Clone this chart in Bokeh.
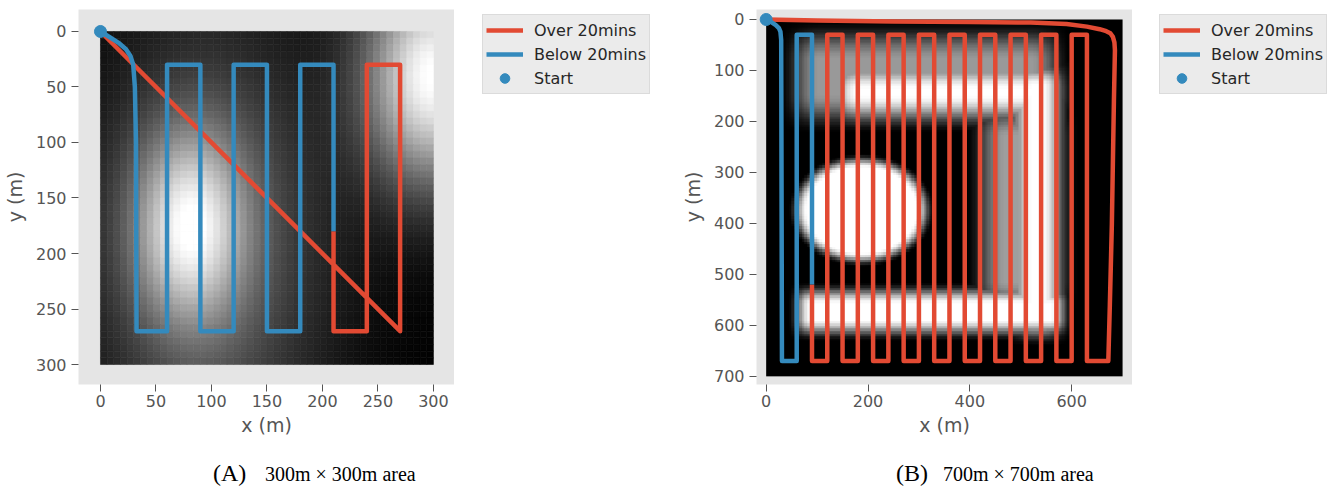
import numpy as np
from bokeh.plotting import figure
from bokeh.models import (Range1d, Legend, LegendItem, LinearColorMapper,
                          ColumnDataSource, FixedTicker, Div)
from bokeh.layouts import row, column
from bokeh.palettes import gray
from bokeh.transform import linear_cmap
from bokeh.embed import file_html
from bokeh.resources import INLINE

RED = "#E24A33"
BLUE = "#348ABD"

# ---------------- Panel A data (300m x 300m) ----------------
a_x_ticks = [0, 50, 100, 150, 200, 250, 300]
a_y_ticks = [0, 50, 100, 150, 200, 250, 300]
a_over_x = [210, 210, 240, 240, 270, 270, 0]
a_over_y = [180, 270, 270, 30, 30, 270, 0]
a_below_x = [0, 8, 16, 23, 27, 29.5, 31, 32, 32.5, 60, 60, 90, 90, 120, 120,
             150, 150, 180, 180, 210, 210]
a_below_y = [0, 5, 10, 16, 22, 30, 50, 100, 270, 270, 30, 30, 270, 270, 30,
             30, 270, 270, 30, 30, 180]
a_start_x = [0]
a_start_y = [0]
# intensity field: bright blobs
a_blob_x = [80, 100, 300]
a_blob_y = [175, 200, 40]
a_blob_sx = [35, 75, 43]
a_blob_sy = [60, 150, 70]
a_blob_amp = [0.7, 0.35, 1.0]
a_size = 300
a_cells = 50

# ---------------- Panel B data (700m x 700m) ----------------
b_x_ticks = [0, 200, 400, 600]
b_y_ticks = [0, 100, 200, 300, 400, 500, 600, 700]
b_below_x = [0, 10, 19, 25, 28, 29.5, 31, 60, 60, 90, 90]
b_below_y = [0, 5, 11, 17, 24, 40, 670, 670, 30, 30, 520]
b_over_x = [90, 90, 120, 120, 150, 150, 180, 180, 210, 210, 240, 240, 270, 270,
            300, 300, 330, 330, 360, 360, 390, 390, 420, 420, 450, 450, 480, 480,
            510, 510, 540, 540, 570, 570, 600, 600, 630, 630,
            672, 675, 679, 683, 685, 684, 681, 676, 668, 655, 630, 590, 520, 400,
            250, 100, 0]
b_over_y = [520, 670, 670, 30, 30, 670, 670, 30, 30, 670, 670, 30, 30, 670,
            670, 30, 30, 670, 670, 30, 30, 670, 670, 30, 30, 670, 670, 30,
            30, 670, 670, 30, 30, 670, 670, 30, 30, 670,
            670, 560, 400, 160, 60, 45, 34, 27, 23, 19, 14, 9, 6, 5,
            4, 2, 0]
b_start_x = [0]
b_start_y = [0]
# intensity field: soft-edged shapes
b_rect_x0 = [65, 140, 430, 492, 65]
b_rect_x1 = [560, 570, 575, 572, 580]
b_rect_y0 = [40, 100, 190, 100, 535]
b_rect_y1 = [185, 185, 550, 610, 608]
b_rect_level = [0.6, 1.0, 0.62, 1.0, 1.0]
b_rect_soft = [40, 38, 40, 30, 22]
b_ell_cx = [187]
b_ell_cy = [373]
b_ell_rx = [125]
b_ell_ry = [97]
b_ell_soft = [16]
b_size = 700
b_cells = 140

cap_letters = ["(A)", "(B)"]
cap_texts = ["300m \u00d7 300m area", "700m \u00d7 700m area"]
legend_labels = ["Over 20mins", "Below 20mins", "Start"]


def ramp(d, w):
    t = np.clip((d + w) / (2.0 * w), 0, 1)
    return t * t * (3 - 2 * t)


def field_a():
    c = (np.arange(a_cells) + 0.5) * a_size / a_cells
    X, Y = np.meshgrid(c, c)
    F = np.zeros_like(X)
    for bx, by, sx, sy, am in zip(a_blob_x, a_blob_y, a_blob_sx, a_blob_sy, a_blob_amp):
        F += am * np.exp(-((X - bx) ** 2) / (2 * sx ** 2) - ((Y - by) ** 2) / (2 * sy ** 2))
    return X, Y, np.clip(F, 0, 1)


def field_b():
    c = (np.arange(b_cells) + 0.5) * b_size / b_cells
    X, Y = np.meshgrid(c, c)
    F = np.zeros_like(X)
    for x0, x1, y0, y1, lv, w in zip(b_rect_x0, b_rect_x1, b_rect_y0, b_rect_y1,
                                      b_rect_level, b_rect_soft):
        v = lv * ramp(X - x0, w) * ramp(x1 - X, w) * ramp(Y - y0, w) * ramp(y1 - Y, w)
        F = np.maximum(F, v)
    for cx, cy, rx, ry, w in zip(b_ell_cx, b_ell_cy, b_ell_rx, b_ell_ry, b_ell_soft):
        r = np.sqrt(((X - cx) / rx) ** 2 + ((Y - cy) / ry) ** 2)
        v = ramp((1 - r) * np.sqrt(rx * ry), w)
        F = np.maximum(F, v)
    return np.clip(F, 0, 1)


def style(p, xt, yt, ylab_standoff):
    p.background_fill_color = "#E5E5E5"
    p.border_fill_color = "white"
    p.outline_line_color = None
    p.grid.visible = False
    p.xaxis.ticker = FixedTicker(ticks=xt)
    p.yaxis.ticker = FixedTicker(ticks=yt)
    p.xaxis.axis_label = "x (m)"
    p.yaxis.axis_label = "y (m)"
    for ax in (p.xaxis[0], p.yaxis[0]):
        ax.axis_line_color = None
        ax.major_tick_line_color = "#555555"
        ax.major_tick_out = 7
        ax.major_tick_in = 0
        ax.minor_tick_line_color = None
        ax.major_label_text_font = "DejaVu Sans"
        ax.major_label_text_font_size = "16px"
        ax.major_label_text_color = "#555555"
        ax.axis_label_text_font = "DejaVu Sans"
        ax.axis_label_text_font_size = "19px"
        ax.axis_label_text_color = "#555555"
        ax.axis_label_text_font_style = "normal"
    p.xaxis[0].major_label_standoff = 3
    p.xaxis[0].axis_label_standoff = 4
    p.yaxis[0].major_label_standoff = 5
    p.yaxis[0].axis_label_standoff = ylab_standoff


def draw_paths(p, ox, oy, bx, by, sx, sy):
    p.line(ox, oy, line_color=RED, line_width=4.5, line_join="round")
    p.line(bx, by, line_color=BLUE, line_width=4.5, line_join="round")
    p.scatter(sx, sy, size=12, fill_color=BLUE, line_color=BLUE)


def legend_fig(width, left_gap):
    q = figure(width=width, height=445, output_backend="svg", toolbar_location=None,
               x_range=Range1d(0, 1), y_range=Range1d(0, 1),
               x_axis_type=None, y_axis_type=None, min_border=0)
    q.outline_line_color = None
    q.grid.visible = False
    q.background_fill_color = "white"
    q.border_fill_color = "white"
    # key samples kept outside this frame's visible range; only the legend shows
    r_over = q.line(x=[5, 6], y=[5, 6], line_color=RED, line_width=4.5)
    r_below = q.line(x=[5, 6], y=[5, 6], line_color=BLUE, line_width=4.5)
    r_start = q.scatter(x=[5], y=[5], size=12, fill_color=BLUE, line_color=BLUE)
    items = [LegendItem(label=legend_labels[0], renderers=[r_over]),
             LegendItem(label=legend_labels[1], renderers=[r_below]),
             LegendItem(label=legend_labels[2], renderers=[r_start])]
    # the row aligns this frame with the panel frames (375 px tall)
    lg = Legend(items=items, location=(left_gap, 375 - 7 - 78), margin=0, padding=3,
                spacing=0, glyph_width=37, glyph_height=24, label_height=24,
                label_standoff=11, label_text_font="DejaVu Sans",
                label_text_font_size="16px", label_text_color="#262626",
                background_fill_color="#EBEBEB", background_fill_alpha=1.0,
                border_line_color="#CCCCCC", border_line_width=1)
    q.add_layout(lg)
    return q


# ---------------- Panel A ----------------
pa = figure(width=454, height=445, output_backend="svg", toolbar_location=None,
            x_range=Range1d(-19.8, 319), y_range=Range1d(318, -19.8),
            min_border_left=78, min_border_right=0, min_border_top=9,
            min_border_bottom=61)
X, Y, FA = field_a()
cell = a_size / a_cells
srcA = ColumnDataSource(dict(x=X.ravel(), y=Y.ravel(), v=FA.ravel()))
cmap = linear_cmap("v", gray(256), 0, 1)
pa.rect(x="x", y="y", width=cell, height=cell, source=srcA,
        fill_color=cmap, line_color=cmap, line_width=0.6)
style(pa, a_x_ticks, a_y_ticks, 7)
draw_paths(pa, a_over_x, a_over_y, a_below_x, a_below_y, a_start_x, a_start_y)
la = legend_fig(211, 28)

# ---------------- Panel B ----------------
pb = figure(width=467, height=445, output_backend="svg", toolbar_location=None,
            x_range=Range1d(-19, 719.5), y_range=Range1d(716, -19.6),
            min_border_left=91, min_border_right=0, min_border_top=9,
            min_border_bottom=61)
FB = field_b()
pb.image(image=[FB], x=0, y=0, dw=b_size, dh=b_size,
         color_mapper=LinearColorMapper(palette=gray(256), low=0, high=1))
style(pb, b_x_ticks, b_y_ticks, 7)
draw_paths(pb, b_over_x, b_over_y, b_below_x, b_below_y, b_start_x, b_start_y)
lb = legend_fig(199, 27)

# ---------------- Captions ----------------
letter_left = [213, 896]
text_left = [265, 943]
spans = []
for lt, lx, tt, tx in zip(cap_letters, letter_left, cap_texts, text_left):
    spans.append('<span style="position:absolute;left:%dpx;top:16px;font-size:24px;'
                 'line-height:24px;white-space:nowrap;">%s</span>' % (lx, lt))
    spans.append('<span style="position:absolute;left:%dpx;top:19px;font-size:20px;'
                 'line-height:20px;white-space:nowrap;">%s</span>' % (tx, tt))
cap_html = ('<div style="position:relative;width:1331px;height:42px;'
            'font-family:\'Liberation Serif\',serif;color:#000;">' + "".join(spans) + '</div>')
cap = Div(text=cap_html, width=1331, height=42, margin=0)

layout = column(row(pa, la, pb, lb, spacing=0), cap, spacing=0)
open("out.html", "w").write(file_html(layout, INLINE))
